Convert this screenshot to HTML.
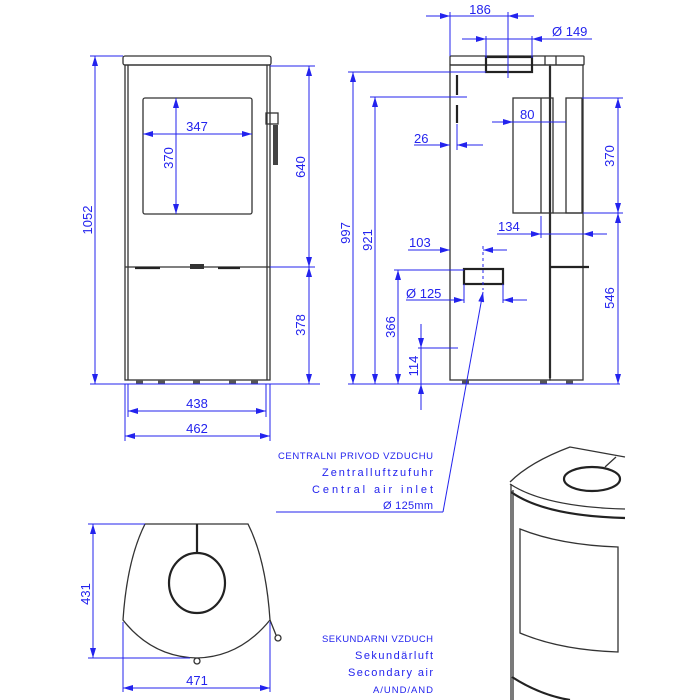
<!DOCTYPE html>
<html><head><meta charset="utf-8"><style>
html,body{margin:0;padding:0;background:#fff}
svg{display:block}
.b{stroke:#2323ee;stroke-width:1;fill:none}
.k{stroke:#333;stroke-width:1.3;fill:none}
.k2{stroke:#222;stroke-width:2.2;fill:none}
text{font-family:"Liberation Sans Narrow","Liberation Sans",sans-serif;fill:#2323ee;font-size:13px}
.n{font-size:11px}
.u{font-size:9.5px}
</style></head><body>
<svg width="700" height="700" viewBox="0 0 700 700" xmlns="http://www.w3.org/2000/svg">
<defs>
<marker id="a" viewBox="0 0 10 6" refX="10" refY="3" markerWidth="10" markerHeight="6" orient="auto-start-reverse" markerUnits="userSpaceOnUse"><path d="M0,0L10,3L0,6z" fill="#2323ee"/></marker>
</defs>

<!-- FRONT VIEW -->
<rect class="k" x="123" y="56" width="148" height="9" rx="2"/>
<rect class="k" x="125" y="65" width="145" height="315"/>
<line class="k" x1="128" y1="65" x2="128" y2="380"/>
<line class="k" x1="267" y1="65" x2="267" y2="380"/>
<rect class="k" x="143" y="98" width="109" height="116" rx="2"/>
<line class="k" x1="125" y1="267" x2="270" y2="267"/>
<line class="k2" x1="135" y1="268" x2="160" y2="268"/>
<line class="k2" x1="218" y1="268" x2="240" y2="268"/>
<rect x="190" y="264" width="14" height="5" fill="#333"/>
<rect class="k" x="266" y="113" width="12" height="11"/>
<rect x="273" y="125" width="5" height="40" fill="#444"/>
<g fill="#555"><rect x="136" y="380" width="7" height="4"/><rect x="158" y="380" width="7" height="4"/><rect x="193" y="380" width="7" height="4"/><rect x="229" y="380" width="7" height="4"/><rect x="251" y="380" width="7" height="4"/></g>
<line class="b" x1="90" y1="56" x2="123" y2="56"/>
<line class="b" x1="90" y1="384" x2="320" y2="384"/>
<line class="b" x1="95" y1="56" x2="95" y2="384" marker-start="url(#a)" marker-end="url(#a)"/>
<text transform="translate(92,220) rotate(-90)" text-anchor="middle">1052</text>
<line class="b" x1="270" y1="66" x2="315" y2="66"/>
<line class="b" x1="270" y1="267" x2="315" y2="267"/>
<line class="b" x1="309" y1="66" x2="309" y2="267" marker-start="url(#a)" marker-end="url(#a)"/>
<line class="b" x1="309" y1="267" x2="309" y2="384" marker-start="url(#a)" marker-end="url(#a)"/>
<text transform="translate(305,167) rotate(-90)" text-anchor="middle">640</text>
<text transform="translate(305,325) rotate(-90)" text-anchor="middle">378</text>
<line class="b" x1="128" y1="384" x2="128" y2="417"/>
<line class="b" x1="266" y1="384" x2="266" y2="417"/>
<line class="b" x1="125" y1="384" x2="125" y2="441"/>
<line class="b" x1="270" y1="384" x2="270" y2="441"/>
<line class="b" x1="128" y1="411" x2="266" y2="411" marker-start="url(#a)" marker-end="url(#a)"/>
<line class="b" x1="125" y1="436" x2="270" y2="436" marker-start="url(#a)" marker-end="url(#a)"/>
<text x="197" y="408" text-anchor="middle">438</text>
<text x="197" y="433" text-anchor="middle">462</text>
<line class="b" x1="143" y1="134" x2="252" y2="134" marker-start="url(#a)" marker-end="url(#a)"/>
<line class="b" x1="176" y1="98" x2="176" y2="214" marker-start="url(#a)" marker-end="url(#a)"/>
<text x="197" y="131" text-anchor="middle">347</text>
<text transform="translate(173,158) rotate(-90)" text-anchor="middle">370</text>

<!-- SIDE VIEW -->
<rect class="k" x="450" y="56" width="134" height="9" rx="1"/>
<line class="k" x1="545" y1="56" x2="545" y2="65"/>
<line class="k" x1="556" y1="56" x2="556" y2="65"/>
<rect class="k" x="450" y="65" width="100" height="315"/>
<line class="k2" x1="550" y1="66" x2="550" y2="378"/>
<rect class="k" x="550" y="65" width="33" height="315"/>
<rect class="k2" x="486" y="57" width="46" height="15"/>
<rect class="k" x="513" y="98" width="40" height="115"/>
<line class="k" x1="541" y1="98" x2="541" y2="213"/>
<rect class="k" x="566" y="98" width="16" height="115"/>
<line class="k" x1="553" y1="213" x2="583" y2="213"/>
<line class="k2" x1="550" y1="267" x2="589" y2="267"/>
<rect class="k2" x="464" y="269" width="39" height="15"/>
<line class="k2" x1="457" y1="75" x2="457" y2="95"/>
<line class="k2" x1="457" y1="105" x2="457" y2="123"/>
<g fill="#555"><rect x="462" y="380" width="7" height="4"/><rect x="540" y="380" width="7" height="4"/><rect x="566" y="380" width="7" height="4"/></g>
<line class="b" x1="450" y1="12" x2="450" y2="56"/>
<line class="b" x1="508" y1="12" x2="508" y2="78"/>
<line class="b" x1="426" y1="16" x2="450" y2="16" marker-end="url(#a)"/>
<line class="b" x1="450" y1="16" x2="534" y2="16"/>
<line class="b" x1="534" y1="16" x2="508" y2="16" marker-end="url(#a)"/>
<text x="480" y="14" text-anchor="middle">186</text>
<line class="b" x1="486" y1="36" x2="486" y2="58"/>
<line class="b" x1="532" y1="36" x2="532" y2="58"/>
<line class="b" x1="462" y1="39" x2="486" y2="39" marker-end="url(#a)"/>
<line class="b" x1="486" y1="39" x2="592" y2="39"/>
<line class="b" x1="556" y1="39" x2="532" y2="39" marker-end="url(#a)"/>
<text x="552" y="36">Ø 149</text>
<line class="b" x1="348" y1="72" x2="486" y2="72"/>
<line class="b" x1="370" y1="97" x2="467" y2="97"/>
<line class="b" x1="394" y1="270" x2="464" y2="270"/>
<line class="b" x1="418" y1="348" x2="458" y2="348"/>
<line class="b" x1="348" y1="384" x2="620" y2="384"/>
<line class="b" x1="353" y1="72" x2="353" y2="384" marker-start="url(#a)" marker-end="url(#a)"/>
<line class="b" x1="375" y1="97" x2="375" y2="384" marker-start="url(#a)" marker-end="url(#a)"/>
<line class="b" x1="398" y1="270" x2="398" y2="384" marker-start="url(#a)" marker-end="url(#a)"/>
<line class="b" x1="421" y1="324" x2="421" y2="348" marker-end="url(#a)"/>
<line class="b" x1="421" y1="410" x2="421" y2="384" marker-end="url(#a)"/>
<line class="b" x1="421" y1="348" x2="421" y2="384"/>
<text transform="translate(350,233) rotate(-90)" text-anchor="middle">997</text>
<text transform="translate(372,240) rotate(-90)" text-anchor="middle">921</text>
<text transform="translate(395,327) rotate(-90)" text-anchor="middle">366</text>
<text transform="translate(418,366) rotate(-90)" text-anchor="middle">114</text>
<line class="b" x1="457" y1="124" x2="457" y2="150"/>
<line class="b" x1="414" y1="145" x2="450" y2="145" marker-end="url(#a)"/>
<line class="b" x1="483" y1="145" x2="457" y2="145" marker-end="url(#a)"/>
<text x="414" y="143">26</text>
<line class="b" x1="492" y1="122" x2="513" y2="122" marker-end="url(#a)"/>
<line class="b" x1="513" y1="122" x2="566" y2="122"/>
<text x="520" y="119">80</text>
<line class="b" x1="582" y1="98" x2="623" y2="98"/>
<line class="b" x1="583" y1="213" x2="623" y2="213"/>
<line class="b" x1="618" y1="98" x2="618" y2="213" marker-start="url(#a)" marker-end="url(#a)"/>
<line class="b" x1="618" y1="213" x2="618" y2="384" marker-start="url(#a)" marker-end="url(#a)"/>
<text transform="translate(614,156) rotate(-90)" text-anchor="middle">370</text>
<text transform="translate(614,298) rotate(-90)" text-anchor="middle">546</text>
<line class="b" x1="541" y1="216" x2="541" y2="238"/>
<line class="b" x1="497" y1="234" x2="541" y2="234"/>
<line class="b" x1="520" y1="234" x2="541" y2="234" marker-end="url(#a)"/>
<line class="b" x1="607" y1="234" x2="583" y2="234" marker-end="url(#a)"/>
<line class="b" x1="541" y1="234" x2="583" y2="234"/>
<text x="498" y="231">134</text>
<line class="b" x1="483" y1="246" x2="483" y2="290" stroke-dasharray="3,3"/>
<line class="b" x1="408" y1="250" x2="450" y2="250"/>
<line class="b" x1="430" y1="250" x2="450" y2="250" marker-end="url(#a)"/>
<line class="b" x1="507" y1="250" x2="483" y2="250" marker-end="url(#a)"/>
<text x="409" y="247">103</text>
<line class="b" x1="464" y1="284" x2="464" y2="303"/>
<line class="b" x1="503" y1="284" x2="503" y2="303"/>
<line class="b" x1="406" y1="300" x2="464" y2="300"/>
<line class="b" x1="448" y1="300" x2="464" y2="300" marker-end="url(#a)"/>
<line class="b" x1="527" y1="300" x2="503" y2="300" marker-end="url(#a)"/>
<text x="406" y="298">Ø 125</text>
<line class="b" x1="483" y1="292" x2="443" y2="512" marker-start="url(#a)"/>
<line class="b" x1="276" y1="512" x2="443" y2="512"/>
<text class="u" x="278" y="459" textLength="155" lengthAdjust="spacing">CENTRALNI PRIVOD VZDUCHU</text>
<text class="n" x="322" y="476" textLength="111" lengthAdjust="spacing">Zentralluftzufuhr</text>
<text class="n" x="312" y="493" textLength="121" lengthAdjust="spacing">Central air inlet</text>
<text class="n" x="383" y="509" textLength="50" lengthAdjust="spacing">Ø 125mm</text>

<!-- PLAN VIEW -->
<path class="k" d="M145,524 L248,524 Q266,560 270,620 Q240,657 197,658 Q152,657 123,620 Q127,560 145,524 Z"/>
<line class="k2" x1="197" y1="524" x2="197" y2="554"/>
<ellipse class="k2" cx="197" cy="583" rx="28" ry="30"/>
<circle class="k" cx="197" cy="661" r="3"/>
<circle class="k" cx="278" cy="638" r="3"/>
<line class="k" x1="270" y1="620" x2="276" y2="635"/>
<line class="b" x1="88" y1="524" x2="145" y2="524"/>
<line class="b" x1="88" y1="658" x2="190" y2="658"/>
<line class="b" x1="93" y1="524" x2="93" y2="658" marker-start="url(#a)" marker-end="url(#a)"/>
<text transform="translate(90,594) rotate(-90)" text-anchor="middle">431</text>
<line class="b" x1="123" y1="622" x2="123" y2="692"/>
<line class="b" x1="270" y1="622" x2="270" y2="692"/>
<line class="b" x1="123" y1="688" x2="270" y2="688" marker-start="url(#a)" marker-end="url(#a)"/>
<text x="197" y="685" text-anchor="middle">471</text>
<text class="u" x="322" y="642" textLength="111" lengthAdjust="spacing">SEKUNDARNI VZDUCH</text>
<text class="n" x="355" y="659" textLength="78" lengthAdjust="spacing">Sekundärluft</text>
<text class="n" x="348" y="676" textLength="85" lengthAdjust="spacing">Secondary air</text>
<text class="u" x="373" y="693" textLength="60" lengthAdjust="spacing">A/UND/AND</text>

<!-- 3D VIEW -->
<path class="k" d="M510,482 Q530,462 570,447 L625,457"/>
<ellipse class="k2" cx="592" cy="479" rx="28" ry="12"/>
<line class="k" x1="605" y1="467" x2="616" y2="457"/>
<path class="k" d="M510,484 Q545,507 625,509"/>
<path class="k2" d="M511,492 Q545,516 625,518"/>
<line class="k" x1="511" y1="484" x2="511" y2="700"/>
<line class="k" x1="513" y1="490" x2="513" y2="700"/>
<path class="k" d="M520,529 Q560,545 618,547 L618,652 Q560,650 520,633 Z"/>
<path class="k2" d="M512,677 Q540,695 570,700"/>
</svg>
</body></html>
